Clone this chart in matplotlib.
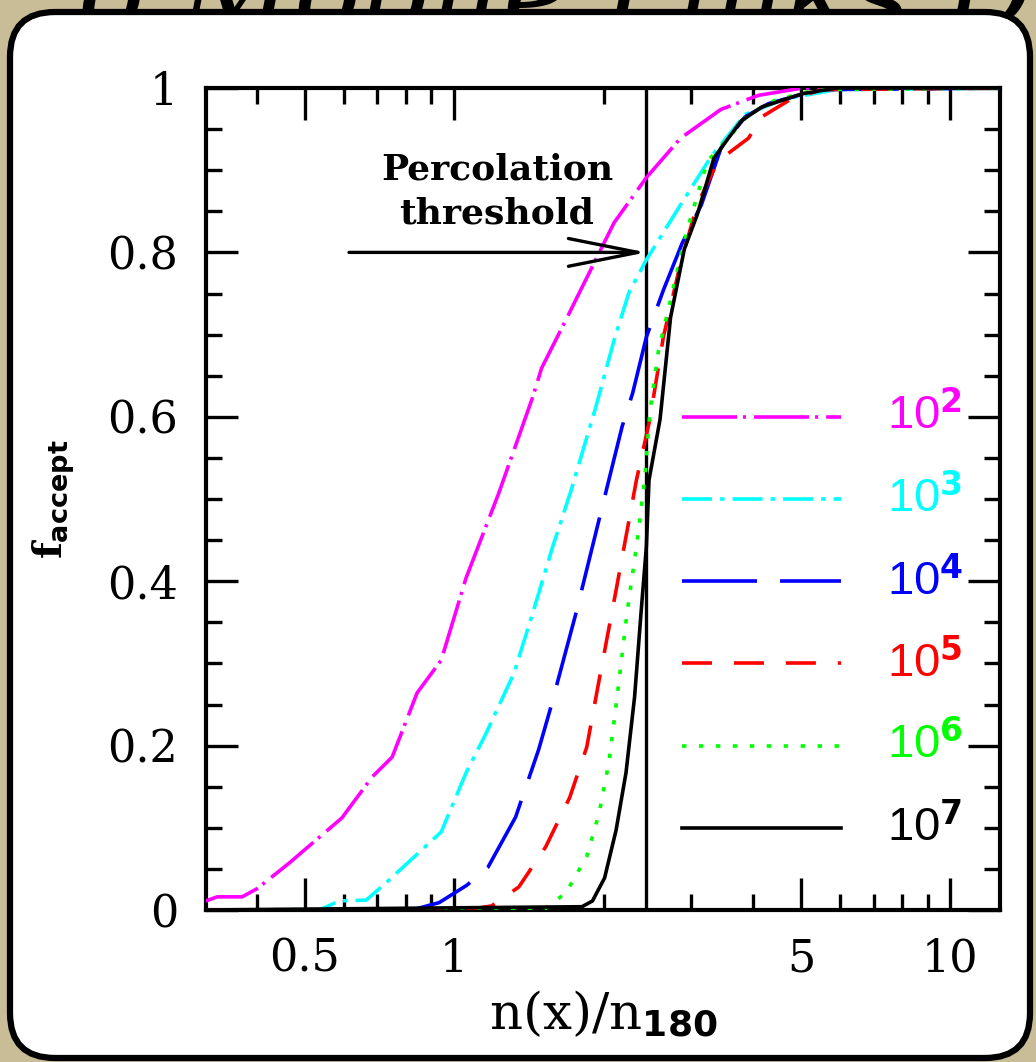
import numpy as np
import matplotlib
matplotlib.use('Agg')
import matplotlib.pyplot as plt
from matplotlib.patches import FancyBboxPatch
from matplotlib.transforms import IdentityTransform, blended_transform_factory

#curve data: x = n(x)/n180, y = f_accept
x_1e2 = [0.316, 0.333, 0.374, 0.401, 0.465, 0.594, 0.684, 0.750, 0.842, 0.942, 1.057, 1.23, 1.44, 1.50, 1.68, 2.10, 2.44, 2.86, 3.45, 4.10, 5.03, 7.0, 12.6]
y_1e2 = [0.011, 0.016, 0.016, 0.026, 0.057, 0.112, 0.162, 0.186, 0.264, 0.304, 0.404, 0.507, 0.624, 0.659, 0.718, 0.836, 0.891, 0.939, 0.974, 0.991, 1.0, 1.0, 1.0]

x_1e3 = [0.316, 0.535, 0.587, 0.665, 0.729, 0.942, 1.057, 1.16, 1.32, 1.44, 1.58, 1.72, 1.93, 2.10, 2.25, 2.44, 2.86, 3.30, 3.86, 4.65, 5.89, 12.6]
y_1e3 = [0.0, 0.0, 0.011, 0.012, 0.033, 0.095, 0.167, 0.215, 0.288, 0.361, 0.442, 0.51, 0.612, 0.693, 0.751, 0.791, 0.858, 0.917, 0.968, 0.987, 0.998, 1.0]

x_1e4 = [0.316, 0.823, 0.933, 1.06, 1.17, 1.33, 1.48, 1.56, 1.76, 2.05, 2.18, 2.29, 2.44, 2.64, 2.88, 3.15, 3.45, 3.86, 4.30, 5.44, 12.6]
y_1e4 = [0.0, 0.0, 0.009, 0.030, 0.052, 0.113, 0.195, 0.243, 0.361, 0.523, 0.588, 0.629, 0.697, 0.754, 0.811, 0.858, 0.927, 0.965, 0.981, 0.998, 1.0]

x_1e5 = [0.316, 1.057, 1.19, 1.35, 1.53, 1.71, 1.85, 1.96, 2.12, 2.33, 2.48, 2.64, 2.86, 3.09, 3.40, 3.92, 4.17, 4.73, 5.5, 12.6]
y_1e5 = [0.0, 0.0, 0.005, 0.028, 0.077, 0.137, 0.198, 0.280, 0.389, 0.523, 0.597, 0.697, 0.787, 0.858, 0.911, 0.939, 0.965, 0.985, 0.998, 1.0]

x_1e6 = [0.316, 1.53, 1.68, 1.85, 1.96, 2.05, 2.13, 2.23, 2.33, 2.42, 2.48, 2.58, 2.73, 2.86, 2.98, 3.24, 3.57, 3.92, 4.43, 5.37, 12.6]
y_1e6 = [0.0, 0.002, 0.021, 0.065, 0.118, 0.179, 0.259, 0.361, 0.442, 0.523, 0.606, 0.680, 0.742, 0.796, 0.837, 0.911, 0.939, 0.968, 0.985, 0.998, 1.0]

x_1e7 = [0.316, 1.81, 1.90, 2.01, 2.12, 2.22, 2.31, 2.38, 2.44, 2.47, 2.60, 2.73, 2.91, 3.09, 3.34, 3.57, 3.79, 4.17, 5.03, 5.89, 12.6]
y_1e7 = [0.0, 0.004, 0.011, 0.039, 0.097, 0.167, 0.259, 0.361, 0.442, 0.523, 0.597, 0.721, 0.804, 0.846, 0.915, 0.939, 0.960, 0.977, 0.993, 1.0, 1.0]

exponents = ['2', '3', '4', '5', '6', '7']
legend_y = [0.6, 0.5, 0.4, 0.3, 0.2, 0.1]
threshold = 2.44
arrow_start = 0.614

xticks_major = [0.5, 1, 5, 10]
xtick_labels = ['0.5', '1', '5', '10']
yticks_major = [0, 0.2, 0.4, 0.6, 0.8, 1.0]
ytick_labels = ['0', '0.2', '0.4', '0.6', '0.8', '1']

#line styles (dash patterns in points)
colours = ['#ff00ff', '#00ffff', '#0000ff', '#ff0000', '#00ff00', '#000000']
dashes = [(0, (39.6, 4.3, 2.2, 5.8)),
          (0, (21.6, 5.8, 3.2, 5.8)),
          (0, (54, 16.6)),
          (0, (21.6, 15.8)),
          (0, (3.2, 9.0)),
          '-']
series = [(x_1e2, y_1e2), (x_1e3, y_1e3), (x_1e4, y_1e4),
          (x_1e5, y_1e5), (x_1e6, y_1e6), (x_1e7, y_1e7)]

plt.rcParams['lines.scale_dashes'] = False
plt.rcParams['mathtext.fontset'] = 'custom'
plt.rcParams['mathtext.rm'] = 'DejaVu Serif'
plt.rcParams['mathtext.bf'] = 'DejaVu Sans:bold'
plt.rcParams['mathtext.it'] = 'DejaVu Serif:bold'
plt.rcParams['mathtext.sf'] = 'Liberation Sans'

W, H = 1036, 1062
fig = plt.figure(figsize=(W / 100, H / 100), dpi=100)
fig.patch.set_facecolor('#c9bd98')

#slide title, mostly hidden behind the white card
fig.text(0.075, 1 - 30 / H, 'o Mobile Links Demo', fontsize=80, style='italic',
         family='DejaVu Serif', color='black', va='baseline', zorder=-2)

#white rounded card
card = FancyBboxPatch((10, 4), 1020, 1046, boxstyle='round,pad=0,rounding_size=45',
                      transform=IdentityTransform(), facecolor='white',
                      edgecolor='black', lw=4.5, zorder=-1)
fig.add_artist(card)

ax = fig.add_axes([206 / W, 1 - 910 / H, 794 / W, 822 / H])
ax.set_facecolor('none')

for (xs, ys), c, ls in zip(series, colours, dashes):
    ax.plot(xs, ys, color=c, linestyle=ls, lw=2.6, zorder=3, dash_capstyle='butt')

ax.set_xscale('log')
ax.set_xlim(10 ** -0.5, 10 ** 1.1)
ax.set_ylim(0, 1)

#threshold line and arrow
ax.axvline(threshold, color='black', lw=2.4, zorder=2.6)
ax.annotate('', xy=(threshold, 0.8), xytext=(arrow_start, 0.8),
            arrowprops=dict(arrowstyle='->,head_length=2.5,head_width=0.5', lw=2.4,
                            color='black', shrinkA=0, shrinkB=0, mutation_scale=20))
ax.text(1.22, 0.874, 'Percolation\nthreshold', ha='center', va='center', fontsize=26,
        fontweight='bold', family='DejaVu Serif', linespacing=1.35)

#legend drawn by hand
trans = blended_transform_factory(ax.transAxes, ax.transData)
for ly, ex, c, ls in zip(legend_y, exponents, colours, dashes):
    ax.plot([0.5995, 0.80], [ly, ly], transform=trans, color=c, linestyle=ls,
            lw=2.6, dash_capstyle='butt')
    ax.text(0.858, ly, r'$\mathsf{10}^{\mathbf{%s}}$' % ex, transform=trans, color=c,
            fontsize=34, ha='left', va='center')

#ticks
ax.set_xticks(xticks_major)
ax.set_xticklabels(xtick_labels)
ax.set_xticks([0.4, 0.6, 0.7, 0.8, 0.9, 2, 3, 4, 6, 7, 8, 9], minor=True)
ax.xaxis.set_minor_formatter(plt.NullFormatter())
ax.set_yticks(yticks_major)
ax.set_yticklabels(ytick_labels)
ax.set_yticks(np.arange(0, 1.001, 0.05), minor=True)
ax.tick_params(which='both', direction='in', top=True, right=True, width=2.4)
ax.tick_params(which='major', length=23)
ax.tick_params(which='minor', length=11.5)
ax.tick_params(axis='x', which='major', pad=20)
ax.tick_params(axis='y', which='major', pad=20)
for lab in ax.get_xticklabels() + ax.get_yticklabels():
    lab.set_family('DejaVu Serif')
    lab.set_fontsize(32)
for sp in ax.spines.values():
    sp.set_linewidth(3.0)

ax.set_xlabel(r'$\mathrm{n(x)/n}_{\mathbf{180}}$', fontsize=37, labelpad=6)
ax.set_ylabel(r'$\mathit{f}_{\mathbf{accept}}$', fontsize=28, labelpad=22)

fig.savefig('out.png', dpi=100, facecolor=fig.get_facecolor())
